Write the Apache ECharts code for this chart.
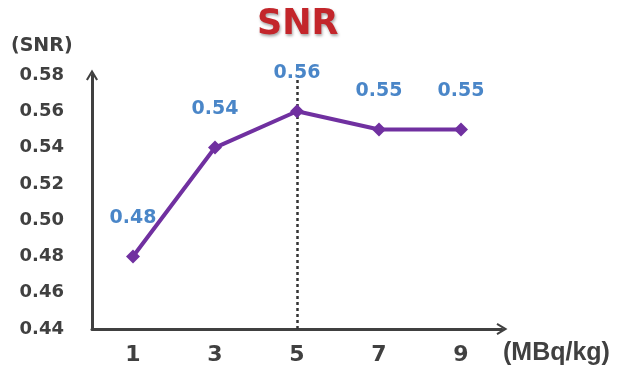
<!DOCTYPE html>
<html>
<head>
<meta charset="utf-8">
<script src="https://cdn.jsdelivr.net/npm/echarts@6/dist/echarts.min.js"></script>
<style>
  html, body { margin: 0; padding: 0; background: #fff; }
  #chart { width: 618px; height: 373px; }
</style>
</head>
<body>
<div id="chart"></div>
<script>
// Dose levels (MBq/kg) and the measured signal-to-noise ratio at each
const doses = ['1', '3', '5', '7', '9'];
const snrValues = [0.48, 0.54, 0.56, 0.55, 0.55];
const yTicks = { min: 0.44, max: 0.58, step: 0.02 };
const peakDose = '5';

const axisColor = '#404040';
const chevron = 'path://M0,10 L6,0 L12,10 L10.2,11 L6,4 L1.8,11 Z';

const chart = echarts.init(document.getElementById('chart'));
chart.setOption({
  animation: false,
  title: {
    text: 'SNR',
    left: 252,
    top: 2,
    textStyle: {
      fontFamily: 'DejaVu Sans',
      fontWeight: 'bold',
      fontSize: 35,
      color: '#C3262B',
      textShadowColor: 'rgba(0,0,0,0.35)',
      textShadowBlur: 3,
      textShadowOffsetX: 1,
      textShadowOffsetY: 2
    }
  },
  grid: { left: 92, right: 116, top: 75, bottom: 44 },
  xAxis: {
    type: 'category',
    data: doses,
    boundaryGap: true,
    axisLine: {
      lineStyle: { color: axisColor, width: 3 },
      symbol: ['none', chevron],
      symbolSize: [14, 11]
    },
    axisTick: { show: false },
    axisLabel: {
      margin: 15,
      color: axisColor,
      fontFamily: 'DejaVu Sans',
      fontWeight: 'bold',
      fontSize: 22
    }
  },
  yAxis: {
    type: 'value',
    min: yTicks.min,
    max: yTicks.max,
    interval: yTicks.step,
    axisLine: {
      show: true,
      lineStyle: { color: axisColor, width: 3 },
      symbol: ['none', chevron],
      symbolSize: [14, 11]
    },
    axisTick: { show: false },
    splitLine: { show: false },
    axisLabel: {
      margin: 28,
      color: axisColor,
      fontFamily: 'DejaVu Sans',
      fontWeight: 'bold',
      fontSize: 18,
      formatter: v => v.toFixed(2)
    }
  },
  graphic: [
    {
      type: 'text', left: 11, top: 37,
      style: { text: '(SNR)', fill: axisColor, font: 'bold 19px "DejaVu Sans"' }
    },
    {
      type: 'text', left: 503, top: 341,
      style: { text: '(MBq/kg)', fill: axisColor, font: 'bold 25px "Liberation Sans Narrow", "Liberation Sans"' }
    }
  ],
  series: [{
    type: 'line',
    data: snrValues,
    symbol: 'diamond',
    symbolSize: 14,
    lineStyle: { color: '#7030A0', width: 4 },
    itemStyle: { color: '#7030A0' },
    label: {
      show: true,
      position: 'top',
      distance: 22,
      color: '#4A86C8',
      fontFamily: 'DejaVu Sans',
      fontWeight: 'bold',
      fontSize: 19,
      formatter: p => p.value.toFixed(2)
    },
    markLine: {
      silent: true,
      symbol: 'none',
      label: { show: false },
      lineStyle: { color: '#333', type: [3, 3], width: 2.5 },
      z: 1,
      data: [{ xAxis: peakDose }]
    }
  }]
});
</script>
</body>
</html>
